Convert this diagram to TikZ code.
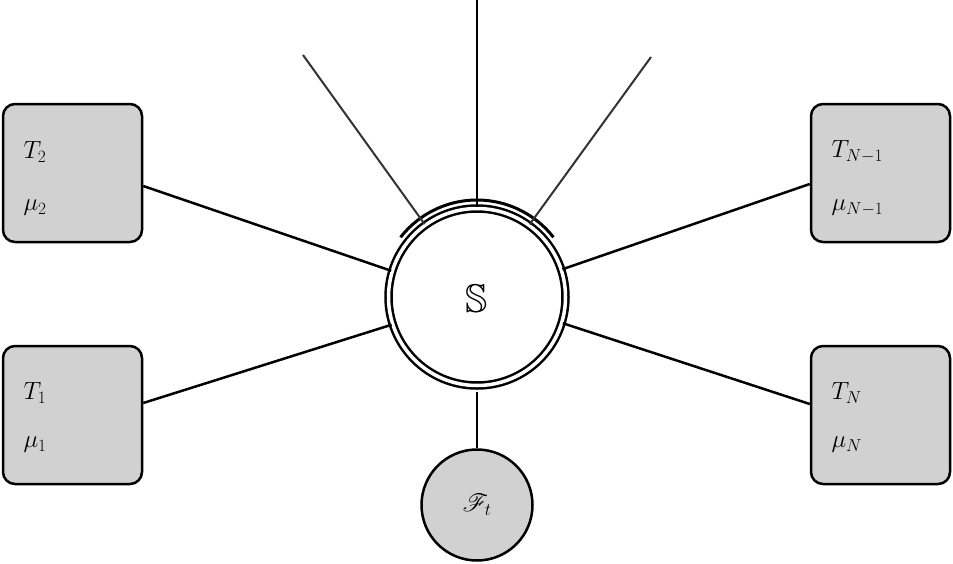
\documentclass[tikz,border=0pt]{standalone}
\usepackage{amssymb}
\usepackage{mathrsfs}
\begin{document}
\begin{tikzpicture}[x=1pt,y=-1pt,
  box/.style={draw,line width=2.5pt,fill=black!18,rounded corners=12pt,minimum width=139pt,minimum height=138pt},
  conn/.style={line width=2.5pt},
  lab/.style={font=\fontsize{27}{30}\selectfont,anchor=west}]
\useasboundingbox (0,0) rectangle (953,563);
\node[box] (b2) at (72.5,173) {};
\node[box] (b1) at (72.5,415) {};
\node[box] (bn1) at (880.5,173) {};
\node[box] (bn) at (880.5,415) {};
\node[lab] at (20,152) {$T_2$};
\node[lab] at (20,208) {$\mu_2$};
\node[lab] at (20,393) {$T_1$};
\node[lab] at (20,445) {$\mu_1$};
\node[lab] at (828,152) {$T_{N-1}$};
\node[lab] at (828,208) {$\mu_{N-1}$};
\node[lab] at (828,393) {$T_N$};
\node[lab] at (828,445) {$\mu_N$};
\node[circle,draw,line width=2.5pt,minimum size=177pt,double,double distance=3.5pt] (s) at (477,297) {};
\node[font=\fontsize{40}{44}\selectfont] at (477,299) {$\mathbb{S}$};
\draw[line width=3pt] (477,297) ++(218:97) arc[start angle=218,end angle=322,radius=97];
\coordinate (arcb) at (477,392);
\node[circle,draw,line width=2.5pt,fill=black!18,minimum size=111pt,font=\fontsize{27}{30}\selectfont] (f) at (477,505) {$\mathscr{F}_t$};
\draw[conn] (arcb) -- (f);
\coordinate (top) at (477,0);
\coordinate (tl) at (303,55);
\coordinate (tr) at (651,57);
\draw[conn] (top) -- (s);
\draw[line width=2pt,black!80] (tl) -- (s);
\draw[line width=2pt,black!80] (tr) -- (s);
\draw[conn] (b2.east) ++(0,13) coordinate (b2e) -- (s.163);
\draw[conn] (b1.east) ++(0,-12) -- (s.198);
\draw[conn] (bn1.west) ++(0,11) -- (s.18);
\draw[conn] (bn.west) ++(0,-11) -- (s.-17);
\end{tikzpicture}
\end{document}
